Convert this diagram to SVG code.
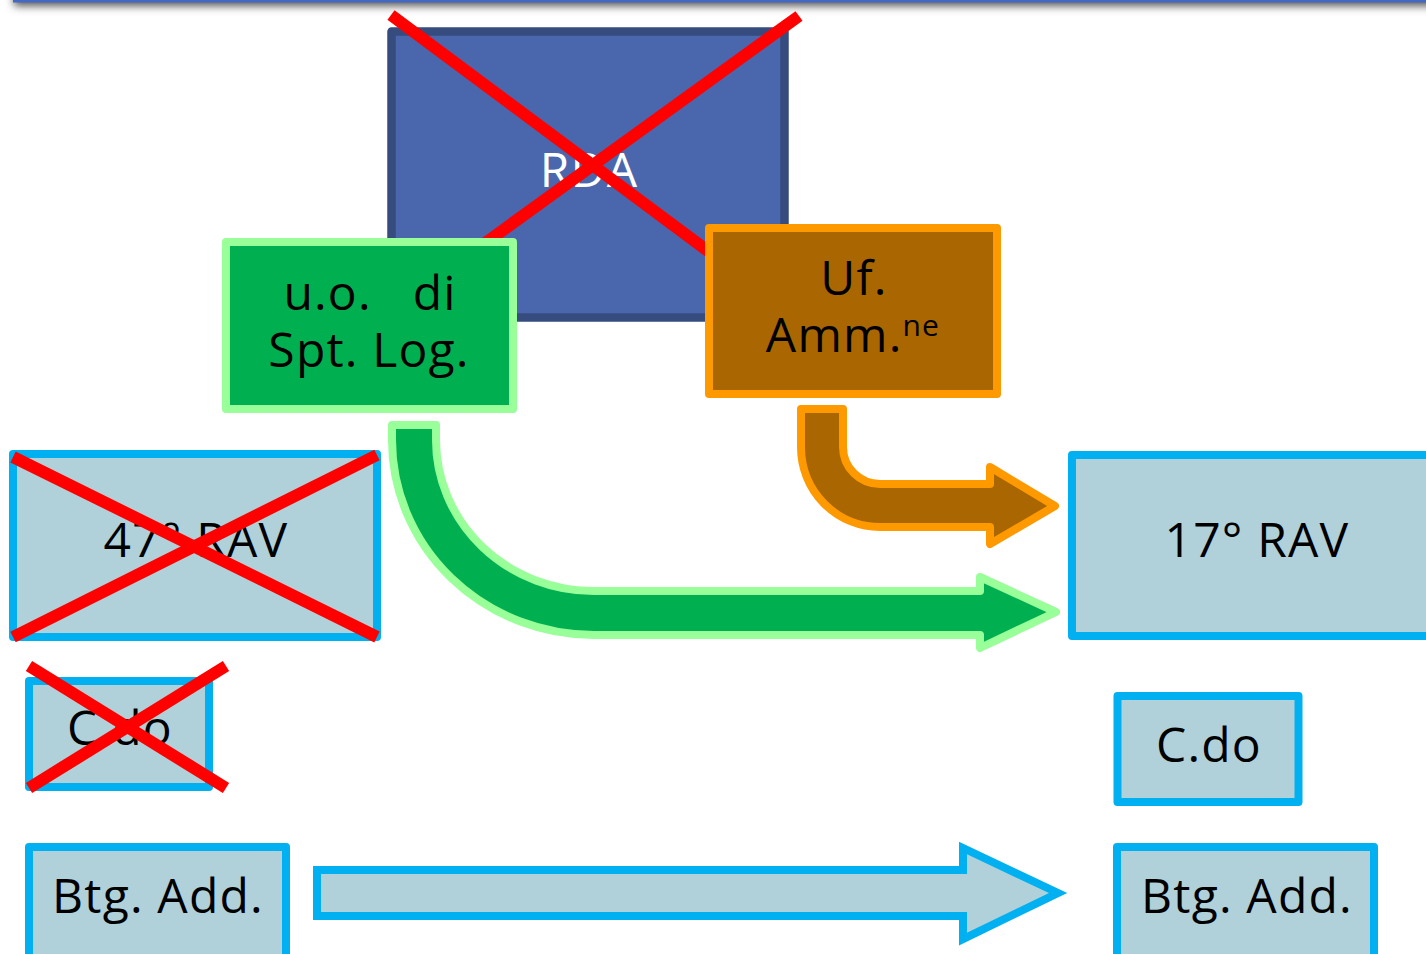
<svg xmlns="http://www.w3.org/2000/svg" width="1426" height="954" viewBox="0 0 1426 954">
  <defs>
    <filter id="shadow" x="-5%" y="-100%" width="110%" height="400%">
      <feGaussianBlur stdDeviation="4"/>
    </filter>
  </defs>
  <style>
    .lbl { font-family: "Open Sans", "Noto Sans", "DejaVu Sans", sans-serif; font-size: 48px; letter-spacing: 1.2px; fill: #000; text-anchor: middle; }
    .pre { white-space: pre; }
    .rav { fill: #b0d1d9; stroke: #00b0f0; stroke-width: 8; stroke-linejoin: round; }
    .x { stroke: #ff0000; stroke-width: 12; stroke-linecap: butt; }
  </style>
  <rect width="1426" height="954" fill="#ffffff"/>

  <!-- top bar -->
  <g id="topbar">
    <rect x="14" y="-12" width="1430" height="18" fill="#555555" filter="url(#shadow)"/>
    <rect x="13" y="-10" width="1430" height="12.5" fill="#4568c2"/>
  </g>

  <g id="rda">
    <rect x="391.5" y="31.5" width="393" height="286" fill="#4a67ad" stroke="#364c7f" stroke-width="8.5" stroke-linejoin="round"/>
    <text x="589" y="187" class="lbl" style="fill:#ffffff">RDA</text>
    <line class="x" x1="391" y1="15" x2="720" y2="260"/>
    <line class="x" x1="799" y1="16" x2="470" y2="254"/>
  </g>

  <g id="spt-log">
    <rect x="226" y="242" width="287" height="167" fill="#00b050" stroke="#99ff99" stroke-width="8" stroke-linejoin="round"/>
    <text x="370" y="310" class="lbl pre">u.o.   di</text>
    <text x="369" y="367" class="lbl">Spt. Log.</text>
  </g>

  <g id="uf-amm">
    <rect x="709" y="228" width="288" height="166" fill="#aa6600" stroke="#ff9900" stroke-width="8" stroke-linejoin="round"/>
    <text x="854" y="295" class="lbl">Uf.</text>
    <text x="853" y="352" class="lbl">Amm.<tspan font-size="30" dy="-16">ne</tspan></text>
  </g>

  <g id="rav47">
    <rect class="rav" x="13" y="454" width="364" height="183"/>
    <text x="196" y="557" class="lbl">47° RAV</text>
    <line class="x" x1="13" y1="457" x2="377" y2="637"/>
    <line class="x" x1="377" y1="455" x2="13" y2="637"/>
  </g>

  <g id="cdo-left">
    <rect class="rav" x="29" y="681" width="180" height="106"/>
    <text x="120" y="745" class="lbl">C.do</text>
    <line class="x" x1="29" y1="666" x2="226" y2="788"/>
    <line class="x" x1="226" y1="666" x2="29" y2="788"/>
  </g>

  <g id="btg-left">
    <rect class="rav" x="29" y="847" width="257" height="130"/>
    <text x="158" y="913" class="lbl">Btg. Add.</text>
  </g>

  <g id="rav17">
    <rect class="rav" x="1072" y="455" width="380" height="181"/>
    <text x="1257" y="557" class="lbl">17° RAV</text>
  </g>

  <g id="cdo-right">
    <rect class="rav" x="1117.5" y="696" width="181" height="106"/>
    <text x="1209" y="762" class="lbl">C.do</text>
  </g>

  <g id="btg-right">
    <rect class="rav" x="1117" y="847" width="257" height="130"/>
    <text x="1247" y="913" class="lbl">Btg. Add.</text>
  </g>

  <g id="connectors">
    <path d="M392,425 L436,425 L436,440 A158,151 0 0 0 594,591 L980,591 L980,577 L1056,612 L980,648 L980,635 L594,635 A202,195 0 0 1 392,440 Z" fill="#00b050" stroke="#99ff99" stroke-width="8" stroke-linejoin="round"/>
    <path d="M801,409 L843,409 L843,447 A37,37 0 0 0 880,484 L990,484 L990,467 L1055,506 L990,544 L990,527 L880,527 A79,80 0 0 1 801,447 Z" fill="#aa6600" stroke="#ff9900" stroke-width="8" stroke-linejoin="round"/>
    <path d="M317,870 L963,870 L963,848 L1058,893 L963,939 L963,916 L317,916 Z" fill="#b0d1d9" stroke="#00b0f0" stroke-width="8" stroke-linejoin="miter"/>
  </g>
</svg>
